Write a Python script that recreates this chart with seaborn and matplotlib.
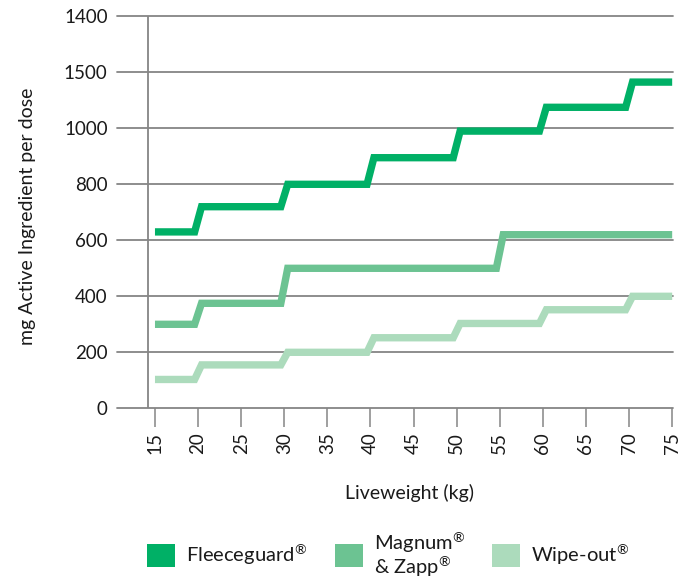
import matplotlib
matplotlib.use("Agg")
import matplotlib.pyplot as plt
from matplotlib.patches import Patch
import seaborn as sns
import pandas as pd

# ---- data ----
series_names = ["Fleeceguard$^{®}$", "Magnum$^{®}$\n& Zapp$^{®}$", "Wipe-out$^{®}$"]
fleece_starts = [15, 20, 30, 40, 50, 60, 70]
fleece_levels = [630, 720, 800, 895, 990, 1075, 1165]
magnum_starts = [15, 20, 30, 55]
magnum_levels = [300, 375, 500, 620]
wipe_starts = [15, 20, 30, 40, 50, 60, 70]
wipe_levels = [103, 155, 200, 252, 303, 352, 400]
x_end = 75
x_ticks = [15, 20, 25, 30, 35, 40, 45, 50, 55, 60, 65, 70, 75]
y_ticks = [0, 200, 400, 600, 800, 1000, 1200, 1400]
y_tick_labels = ["0", "200", "400", "600", "800", "1000", "1500", "1400"]
colors = ["#00b066", "#6cc392", "#acdbbc"]

HALF = 0.4  # half width of the sloped transition (style)


def step_points(starts, levels, end):
    xs, ys = [starts[0]], [levels[0]]
    for i in range(1, len(starts)):
        xs += [starts[i] - HALF, starts[i] + HALF]
        ys += [levels[i - 1], levels[i]]
    xs.append(end)
    ys.append(levels[-1])
    return xs, ys


rows = []
for name, st, lv in zip(series_names,
                        [fleece_starts, magnum_starts, wipe_starts],
                        [fleece_levels, magnum_levels, wipe_levels]):
    xs, ys = step_points(st, lv, x_end)
    for i, (x, y) in enumerate(zip(xs, ys)):
        rows.append({"series": name, "order": i, "weight": x, "mg": y})
df = pd.DataFrame(rows)

sns.set_theme(style="white")
plt.rcParams["font.family"] = ["Lato", "DejaVu Sans"]
plt.rcParams["mathtext.fontset"] = "custom"
plt.rcParams["mathtext.rm"] = "Lato"
plt.rcParams["mathtext.it"] = "Lato"
plt.rcParams["mathtext.default"] = "regular"
text_color = "#1a1a1a"
grid_color = "#858585"

fig = plt.figure(figsize=(6.92, 5.78), dpi=100)
W, H = 692, 578
ax = fig.add_axes([116.7 / W, 1 - 408.3 / H, (673.3 - 116.7) / W, 392 / H])

sns.lineplot(data=df, x="weight", y="mg", hue="series", palette=colors,
             hue_order=series_names, estimator=None, sort=False,
             legend=False, ax=ax, linewidth=5.3)
for line in ax.get_lines():
    line.set_solid_joinstyle("miter")
    line.set_solid_capstyle("butt")
    line.set_zorder(3)

ax.set_xlim(10.56, 75.13)
ax.set_ylim(0, 1400)

for s in ax.spines.values():
    s.set_visible(False)

ax.set_yticks(y_ticks)
ax.set_yticklabels(y_tick_labels)
ax.yaxis.grid(True, color=grid_color, linewidth=1.3)
for gl in ax.get_ygridlines():
    gl.set_clip_on(False)
ax.set_axisbelow(True)
ax.tick_params(axis="y", length=0, pad=6.5, labelsize=13.5, labelcolor=text_color)

# vertical axis line
ax.axvline(14.2, color=grid_color, linewidth=1.3, zorder=1)

ax.set_xticks(x_ticks)
ax.set_xticklabels([str(v) for v in x_ticks], rotation=90)
ax.tick_params(axis="x", bottom=True, direction="out", length=13.7, width=1.1,
               color=grid_color, pad=3.5, labelsize=13.5, labelcolor=text_color)

ax.set_xlabel("Liveweight (kg)", fontsize=14, color=text_color)
ax.xaxis.set_label_coords((410 - 116.7) / 556.6, (408.3 - 493) / 392)
ax.set_ylabel("mg Active Ingredient per dose", fontsize=14, color=text_color)
ax.yaxis.set_label_coords((28 - 116.7) / 556.6, (408.3 - 216) / 392)
ax.yaxis.label.set_verticalalignment("center")
ax.xaxis.label.set_verticalalignment("center")

# legend: three separate entries placed like the reference
leg_x = [146.7, 335, 492]
for name, col, lx in zip(series_names, colors, leg_x):
    lg = fig.legend(handles=[Patch(facecolor=col, edgecolor="none", label=name)],
                    loc="center left", bbox_to_anchor=(lx / W, 1 - 555 / H),
                    frameon=False, fontsize=14.5, handlelength=1.39,
                    handleheight=1.39, handletextpad=0.55, borderpad=0,
                    borderaxespad=0, labelspacing=0)
    for t in lg.get_texts():
        t.set_color(text_color)
        t.set_linespacing(0.95)

fig.savefig("out.png", dpi=100)
